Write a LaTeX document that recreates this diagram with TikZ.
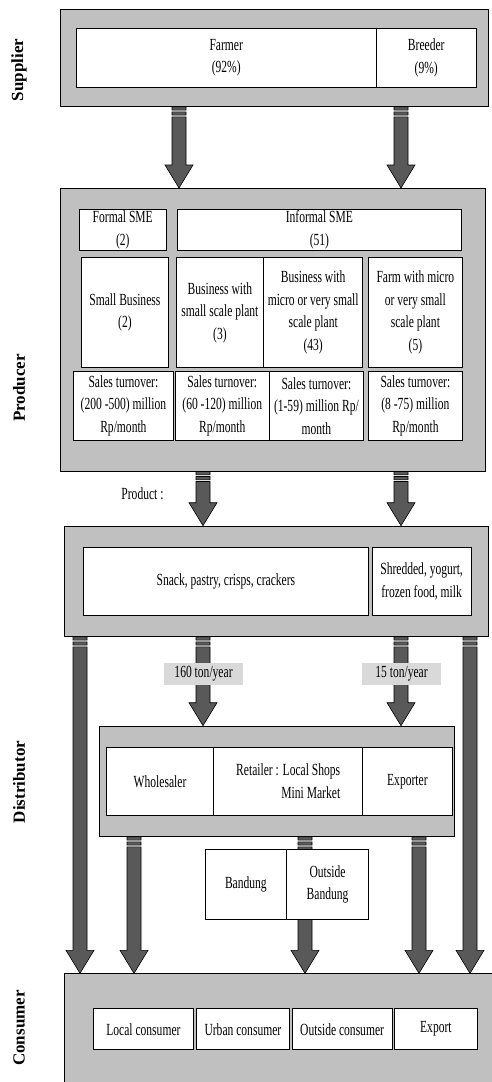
\documentclass[tikz,border=0pt]{standalone}
\usepackage{fontspec}
\usetikzlibrary{calc}
\newfontfamily\cellfamily{Liberation Serif}[FakeStretch=0.68]
\newfontfamily\sidefamily{Liberation Serif}
\newcommand{\cellfont}{\cellfamily\fontsize{17}{22.5}\selectfont}
\newcommand{\sidefont}{\sidefamily\bfseries\fontsize{17}{20}\selectfont}
\definecolor{stagegray}{HTML}{C0C0C0}
\definecolor{arrowgray}{HTML}{595959}
\definecolor{labelgray}{HTML}{D9D9D9}
\tikzset{
  stage/.style={draw, fill=stagegray, line width=0.8pt, anchor=north west, inner sep=0pt},
  cell/.style={draw, fill=white, line width=0.8pt, anchor=north west, inner sep=0pt,
    align=center, font=\cellfont},
  wh/.style 2 args={minimum width=#1pt, minimum height=#2pt},
  tonlabel/.style={fill=labelgray, anchor=north west, inner sep=0pt, font=\cellfont},
  flowarrow/.style={fill=arrowgray, draw=black, line width=0.6pt},
  sidelabel/.style={rotate=90, font=\sidefont}
}
% striped block arrow going down from one stage to the next
\newcommand{\flow}[3]{%
  \draw[flowarrow] let \p1 = (#2.south -| #1,0), \p2 = (#3.north -| #1,0) in
    (\x1-7pt,\y1) rectangle (\x1+7pt,\y1-3.3pt)
    (\x1-7pt,\y1-5pt) rectangle (\x1+7pt,\y1-8.3pt)
    (\x1-7pt,\y1-10pt) -- (\x1-7pt,\y2+23pt) -- (\x1-14pt,\y2+23pt) -- (\x1,\y2)
    -- (\x1+14pt,\y2+23pt) -- (\x1+7pt,\y2+23pt) -- (\x1+7pt,\y1-10pt) -- cycle;}
\begin{document}
\begin{tikzpicture}[x=1pt, y=-1pt]
  \useasboundingbox (0,0) rectangle (491,1082);

  % side labels
  \node[sidelabel] (lsupplier) at (19,70) {Supplier};
  \node[sidelabel] (lproducer) at (19,388) {Producer};
  \node[sidelabel] (ldistributor) at (19,782) {Distributor};
  \node[sidelabel] (lconsumer) at (19,1028) {Consumer};

  % supplier
  \node[stage, wh={428}{97}] (supplier) at (60,9) {};
  \node[cell, wh={300.3}{58.7}] (farmer) at (75.7,28) {Farmer\\(92\%)};
  \node[cell, wh={99.7}{58.7}] (breeder) at (376,28) {Breeder\\(9\%)};

  % producer
  \node[stage, wh={425}{282.7}] (producer) at (60,188) {};
  \node[cell, wh={87.3}{41.3}] (formal) at (78.7,209) {Formal SME\\(2)};
  \node[cell, wh={284.6}{41.3}] (informal) at (176.7,209) {Informal SME\\(51)};
  \node[cell, wh={87}{109.7}] (small) at (81,257.3) {Small Business\\(2)};
  \node[cell, wh={87.6}{109.7}] (bizsmall) at (175.7,257.3) {Business with\\small scale plant\\(3)};
  \node[cell, wh={99}{109.7}] (bizmicro) at (263.3,257.3) {Business with\\micro or very small\\scale plant\\(43)};
  \node[cell, wh={94.6}{109.7}] (farm) at (367.7,257.3) {Farm with micro\\or very small\\scale plant\\(5)};
  \node[cell, wh={99.4}{69}] (sales1) at (73.3,371) {Sales turnover:\\(200 -500) million\\Rp/month};
  \node[cell, wh={93.7}{69}] (sales2) at (175,371) {Sales turnover:\\(60 -120) million\\Rp/month};
  \node[cell, wh={94.6}{69}] (sales3) at (268.7,371) {Sales turnover:\\(1-59) million Rp/\\month};
  \node[cell, wh={94.6}{69}] (sales4) at (367.7,371) {Sales turnover:\\(8 -75) million\\Rp/month};
  \node[font=\cellfont] (productlbl) at (142.5,494) {Product :};

  % product
  \node[stage, wh={424}{110.3}] (product) at (64.3,525.7) {};
  \node[cell, wh={284.4}{68.3}] (snack) at (83.3,546.7) {Snack, pastry, crisps, crackers};
  \node[cell, wh={99}{68.3}] (dairy) at (371.7,546.7) {Shredded, yogurt,\\frozen food, milk};

  % distributor
  \node[stage, wh={354.7}{110.3}] (distributor) at (99.3,725.7) {};
  \node[cell, wh={107.3}{68.6}] (wholesaler) at (106,746.7) {Wholesaler};
  \node[cell, wh={149}{68.6}, align=right] (retailer) at (213.3,746.7) {Retailer : Local Shops\\Mini Market};
  \node[cell, wh={89.4}{68.6}] (exporter) at (362.3,746.7) {Exporter};

  % consumer
  \node[stage, wh={432}{115}] (consumer) at (64.3,973.3) {};
  \node[cell, wh={99.4}{41}] (local) at (93.3,1008.3) {Local consumer};
  \node[cell, wh={93}{41}] (urban) at (196,1008.3) {Urban consumer};
  \node[cell, wh={100}{41}] (outsidec) at (291.7,1008.3) {Outside consumer};
  \node[cell, wh={82.4}{41}] (export) at (394.3,1008.3) {Export};

  % flows
  \flow{179}{supplier}{producer}
  \flow{401}{supplier}{producer}
  \flow{203}{producer}{product}
  \flow{401}{producer}{product}
  \flow{203}{product}{distributor}
  \flow{401}{product}{distributor}
  \flow{80}{product}{consumer}
  \flow{470}{product}{consumer}
  \flow{134}{distributor}{consumer}
  \flow{305}{distributor}{consumer}
  \flow{419}{distributor}{consumer}

  \node[tonlabel, wh={78.7}{22}] (ton1) at (164,662.3) {160 ton/year};
  \node[tonlabel, wh={78.7}{22}] (ton2) at (362,662.3) {15 ton/year};

  % region
  \node[cell, wh={81}{69.7}] (bandung) at (205,849.3) {Bandung};
  \node[cell, wh={82.3}{69.7}] (outside) at (286,849.3) {Outside\\Bandung};
\end{tikzpicture}
\end{document}
